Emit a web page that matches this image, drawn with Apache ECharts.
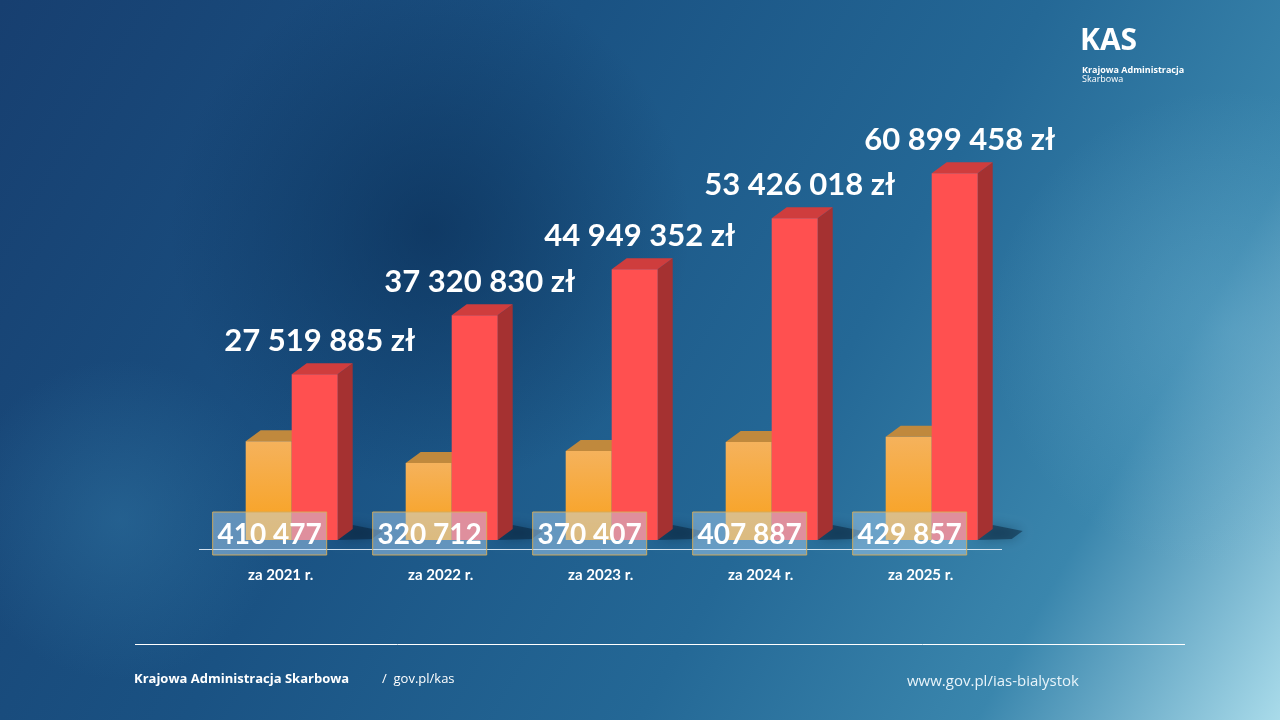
<!DOCTYPE html>
<html>
<head>
<meta charset="utf-8">
<script src="https://cdn.jsdelivr.net/npm/echarts@6/dist/echarts.min.js"></script>
<style>
  html, body { margin: 0; padding: 0; }
  #chart { width: 1280px; height: 720px; }
</style>
</head>
<body>
<div id="chart"></div>
<script>
// data
const categories = ['za 2021 r.', 'za 2022 r.', 'za 2023 r.', 'za 2024 r.', 'za 2025 r.'];
const countValues = [410477, 320712, 370407, 407887, 429857];
const amountValues = [27519885, 37320830, 44949352, 53426018, 60899458];

const fmt = n => String(n).replace(/\B(?=(\d{3})+(?!\d))/g, ' ');

const chart = echarts.init(document.getElementById('chart'));

// share of a band taken by one bar face, and the fake 3d depth
const barShare = 46 / 160;
const depthX = 15, depthY = 11;

function barShape(params, api, side, colors) {
  const idx = api.value(0);
  const top = api.coord([idx, api.value(1)]);
  const base = api.coord([idx, 0]);
  const bw = api.size([1, 0])[0] * barShare;
  const x0 = side === 'left' ? top[0] - bw : top[0];
  const x1 = x0 + bw;
  const yt = top[1], yb = base[1];
  const kids = [];
  if (side === 'right') {
    kids.push({
      type: 'polygon',
      shape: { points: [[x1, yb], [x1 + depthX, yb - depthY - 4], [x1 + depthX + 30, yb - depthY + 2], [x1 + 34, yb - 1]] },
      style: { fill: 'rgba(5,25,45,0.45)', shadowBlur: 12, shadowColor: 'rgba(5,25,45,0.7)' }
    });
  }
  kids.push({
    type: 'polygon',
    shape: { points: [[x1, yt], [x1 + depthX, yt - depthY], [x1 + depthX, yb - depthY], [x1, yb]] },
    style: { fill: colors.side }
  });
  kids.push({
    type: 'polygon',
    shape: { points: [[x0, yt], [x0 + depthX, yt - depthY], [x1 + depthX, yt - depthY], [x1, yt]] },
    style: { fill: colors.top }
  });
  kids.push({
    type: 'rect',
    shape: { x: x0, y: yt, width: bw, height: yb - yt },
    style: { fill: colors.front }
  });
  if (side === 'right') {
    kids.push({
      type: 'text',
      style: {
        x: x0 + bw / 2 + depthX / 3, y: yt - 33,
        text: fmt(api.value(1)) + ' zł',
        align: 'center', verticalAlign: 'middle',
        fill: '#ffffff', font: 'bold 31px Lato'
      }
    });
  }
  return { type: 'group', children: kids };
}

function countLabel(params, api) {
  const idx = api.value(0);
  const base = api.coord([idx, 0]);
  const bw = api.size([1, 0])[0] * barShare;
  const cx = base[0] - bw / 2 + 1;
  const cy = base[1] - 6.5;
  return {
    type: 'group',
    children: [
      {
        type: 'rect',
        shape: { x: cx - 57, y: cy - 21.5, width: 114, height: 43 },
        style: { fill: 'rgba(185,220,250,0.45)', stroke: 'rgba(214,172,88,0.95)', lineWidth: 1 }
      },
      {
        type: 'text',
        style: {
          x: cx, y: cy + 1, text: fmt(api.value(1)),
          align: 'center', verticalAlign: 'middle',
          fill: '#ffffff', font: 'bold 28px Lato'
        }
      }
    ]
  };
}

const orangeFront = new echarts.graphic.LinearGradient(0, 0, 0, 1, [
  { offset: 0, color: '#f5b25c' },
  { offset: 1, color: '#f9a01a' }
]);

const option = {
  animation: false,
  graphic: [
    {
      type: 'rect', z: -10, silent: true,
      shape: { x: 0, y: 0, width: 1280, height: 720 },
      style: {
        fill: new echarts.graphic.LinearGradient(0, 0, 1, 1, [
          { offset: 0, color: '#173f70' },
          { offset: 0.35, color: '#1a5283' },
          { offset: 0.62, color: '#246896' },
          { offset: 0.82, color: '#3a86ad' },
          { offset: 1, color: '#a9dbea' }
        ])
      }
    },
    {
      type: 'ellipse', z: -9, silent: true,
      shape: { cx: 430, cy: 230, rx: 520, ry: 260 },
      style: {
        fill: new echarts.graphic.RadialGradient(0.5, 0.5, 0.5, [
          { offset: 0, color: 'rgba(10,45,85,0.65)' },
          { offset: 1, color: 'rgba(10,45,85,0)' }
        ])
      }
    },
    {
      type: 'ellipse', z: -9, silent: true,
      shape: { cx: 120, cy: 520, rx: 320, ry: 160 },
      style: {
        fill: new echarts.graphic.RadialGradient(0.5, 0.5, 0.5, [
          { offset: 0, color: 'rgba(50,120,165,0.45)' },
          { offset: 1, color: 'rgba(50,120,165,0)' }
        ])
      }
    },
    {
      type: 'ellipse', z: -9, silent: true,
      shape: { cx: 1230, cy: 330, rx: 260, ry: 240 },
      style: {
        fill: new echarts.graphic.RadialGradient(0.5, 0.5, 0.5, [
          { offset: 0, color: 'rgba(120,185,215,0.35)' },
          { offset: 1, color: 'rgba(120,185,215,0)' }
        ])
      }
    },
    // baseline under the bars
    {
      type: 'line', silent: true,
      shape: { x1: 199, y1: 549.5, x2: 1002, y2: 549.5 },
      style: { stroke: 'rgba(230,240,250,0.9)', lineWidth: 1 }
    },
    // logo
    {
      type: 'text', left: 1080, top: 26,
      style: { text: 'KAS', fill: '#ffffff', font: 'bold 30px "Open Sans"' }
    },
    {
      type: 'text', left: 1082, top: 66,
      style: { text: 'Krajowa Administracja', fill: '#ffffff', font: 'bold 9px "Open Sans"' }
    },
    {
      type: 'text', left: 1082, top: 75,
      style: { text: 'Skarbowa', fill: '#ffffff', font: '9px "Open Sans"' }
    },
    // footer
    {
      type: 'line', silent: true,
      shape: { x1: 135, y1: 644.5, x2: 1185, y2: 644.5 },
      style: { stroke: '#ffffff', lineWidth: 1 }
    },
    {
      type: 'text', left: 134, top: 673,
      style: { text: 'Krajowa Administracja Skarbowa', fill: '#ffffff', font: 'bold 13px "Open Sans"' }
    },
    {
      type: 'text', left: 382, top: 673,
      style: { text: '/  gov.pl/kas', fill: '#ffffff', font: '13px "Open Sans"' }
    },
    {
      type: 'text', left: 907, top: 674,
      style: { text: 'www.gov.pl/ias-bialystok', fill: '#e8f4fa', font: '15px "Open Sans"' }
    }
  ],
  grid: { left: 211.7, width: 800, top: 40, bottom: 180 },
  xAxis: {
    type: 'category',
    data: categories,
    axisLine: { show: false },
    axisTick: { show: false },
    axisLabel: {
      color: '#ffffff', fontWeight: 'bold', fontSize: 15, fontFamily: 'Lato',
      margin: 27, lineHeight: 16, padding: [0, 22, 0, 0]
    }
  },
  yAxis: [
    { type: 'value', min: 0, max: 83037500, show: false },
    { type: 'value', min: 0, max: 2080000, show: false }
  ],
  series: [
    {
      type: 'custom', yAxisIndex: 1, z: 2,
      data: countValues.map((v, i) => [i, v]),
      renderItem: (p, api) => barShape(p, api, 'left', { front: orangeFront, top: '#c0893d', side: '#b87a2c' })
    },
    {
      type: 'custom', yAxisIndex: 0, z: 3,
      data: amountValues.map((v, i) => [i, v]),
      renderItem: (p, api) => barShape(p, api, 'right', { front: '#ff5050', top: '#cf3d3d', side: '#a53131' })
    },
    {
      type: 'custom', yAxisIndex: 1, z: 4,
      data: countValues.map((v, i) => [i, v]),
      renderItem: countLabel
    }
  ]
};

chart.setOption(option);
</script>
</body>
</html>
